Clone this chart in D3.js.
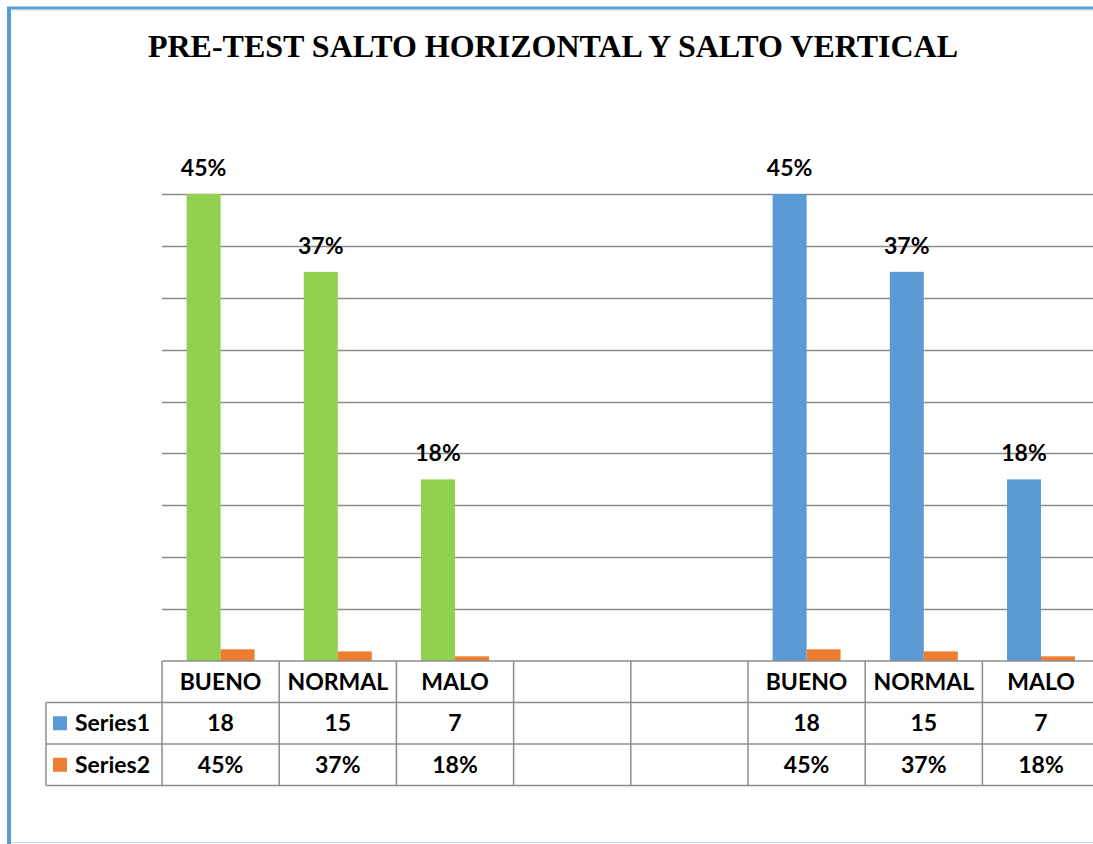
<!DOCTYPE html>
<html>
<head>
<meta charset="utf-8">
<script src="https://cdn.jsdelivr.net/npm/d3@7"></script>
<style>
  body { margin: 0; background: #fff; }
  svg { display: block; }
</style>
</head>
<body>
<div id="chart"></div>
<script>
// chart data
const categories = ['BUENO', 'NORMAL', 'MALO', '', '', 'BUENO', 'NORMAL', 'MALO'];
const series1 = [18, 15, 7, null, null, 18, 15, 7];
const series2 = [0.45, 0.37, 0.18, null, null, 0.45, 0.37, 0.18];
const series1Colors = ['#92D050', '#92D050', '#92D050', null, null, '#5B9BD5', '#5B9BD5', '#5B9BD5'];
const seriesNames = ['Series1', 'Series2'];
const seriesColors = ['#5B9BD5', '#ED7D31'];
const yTicks = [0, 2, 4, 6, 8, 10, 12, 14, 16, 18];

const width = 1093;
const height = 844;
const pct = d3.format('.0%');

const svg = d3
  .select('#chart')
  .append('svg')
  .attr('width', width)
  .attr('height', height);

// page frame
svg.append('line').attr('x1', 7).attr('x2', width).attr('y1', 8).attr('y2', 8)
  .attr('style', 'stroke: #5B9BD5; stroke-width: 3;');
svg.append('line').attr('x1', 7).attr('x2', width).attr('y1', 10).attr('y2', 10)
  .attr('style', 'stroke: #BDD7EE; stroke-width: 1;');
svg.append('line').attr('x1', 9).attr('x2', 9).attr('y1', 7).attr('y2', height)
  .attr('style', 'stroke: #5B9BD5; stroke-width: 4;');
svg.append('line').attr('x1', 11).attr('x2', width).attr('y1', 842.5).attr('y2', 842.5)
  .attr('style', 'stroke: #BDD7EE; stroke-width: 1;');

// title
svg.append('text')
  .attr('x', 553)
  .attr('y', 57)
  .attr('text-anchor', 'middle')
  .attr('style', 'font-family: "Liberation Serif", "Times New Roman", serif; font-weight: bold; font-size: 32px; fill: #000;')
  .text('PRE-TEST SALTO HORIZONTAL Y SALTO VERTICAL');

// scales
const plotLeft = 162;
const colWidth = 117.2;
const x = d3.scaleBand()
  .domain(d3.range(categories.length))
  .range([plotLeft, plotLeft + colWidth * categories.length])
  .paddingInner(0)
  .paddingOuter(0);

const y = d3.scaleLinear().domain([0, 18]).range([661, 194]);

const barW = 34;

// gridlines
svg.append('g')
  .selectAll('line')
  .data(yTicks.slice(1))
  .enter()
  .append('line')
  .attr('x1', plotLeft)
  .attr('x2', width)
  .attr('y1', (d) => Math.round(y(d)) + 0.5)
  .attr('y2', (d) => Math.round(y(d)) + 0.5)
  .attr('style', 'stroke: #8C8C8C; stroke-width: 1.5;');

// bars
const bars = svg.append('g')
  .selectAll('g')
  .data(categories.map((c, i) => ({ i, c, s1: series1[i], s2: series2[i], color: series1Colors[i] })))
  .enter()
  .filter((d) => d.s1 !== null)
  .append('g');

bars.append('rect')
  .attr('x', (d) => x(d.i) + x.bandwidth() / 2 - barW)
  .attr('y', (d) => y(d.s1))
  .attr('width', barW)
  .attr('height', (d) => y(0) - y(d.s1))
  .attr('fill', (d) => d.color);

bars.append('rect')
  .attr('x', (d) => x(d.i) + x.bandwidth() / 2)
  .attr('y', (d) => y(d.s2))
  .attr('width', barW)
  .attr('height', (d) => y(0) - y(d.s2))
  .attr('fill', seriesColors[1]);

bars.append('text')
  .attr('x', (d) => x(d.i) + x.bandwidth() / 2 - barW / 2)
  .attr('y', (d) => y(d.s1) - 18)
  .attr('text-anchor', 'middle')
  .attr('style', 'font-family: Lato, sans-serif; font-weight: bold; font-size: 23px; fill: #000;')
  .text((d) => pct(d.s2));

// data table
const rowY = [661, 702.5, 744, 785.5];
const tableLeft = 46;
const tableRight = plotLeft + colWidth * categories.length;
const lineStyle = 'stroke: #8E8E8E; stroke-width: 1.5;';
const table = svg.append('g');

table.append('line').attr('x1', plotLeft).attr('x2', tableRight).attr('y1', rowY[0]).attr('y2', rowY[0])
  .attr('style', lineStyle);
rowY.slice(1).forEach((ry) => {
  table.append('line').attr('x1', tableLeft).attr('x2', tableRight).attr('y1', ry).attr('y2', ry)
    .attr('style', lineStyle);
});
table.append('line').attr('x1', tableLeft).attr('x2', tableLeft).attr('y1', rowY[1]).attr('y2', rowY[3])
  .attr('style', lineStyle);
d3.range(categories.length + 1).forEach((k) => {
  const lx = plotLeft + colWidth * k;
  table.append('line').attr('x1', lx).attr('x2', lx).attr('y1', rowY[0]).attr('y2', rowY[3])
    .attr('style', lineStyle);
});

const cellStyle = 'font-family: Lato, sans-serif; font-weight: bold; font-size: 23px; fill: #000;';
const rows = [
  categories,
  series1.map((v) => (v === null ? '' : v)),
  series2.map((v) => (v === null ? '' : pct(v))),
];
rows.forEach((row, r) => {
  table.selectAll(null)
    .data(row)
    .enter()
    .append('text')
    .attr('x', (d, i) => x(i) + x.bandwidth() / 2)
    .attr('y', (rowY[r] + rowY[r + 1]) / 2 + 8)
    .attr('text-anchor', 'middle')
    .attr('style', cellStyle)
    .text((d) => d);
});

// legend keys in the table
seriesNames.forEach((name, k) => {
  const cy = (rowY[k + 1] + rowY[k + 2]) / 2;
  table.append('rect')
    .attr('x', 53).attr('y', cy - 7).attr('width', 14).attr('height', 14)
    .attr('fill', seriesColors[k]);
  table.append('text')
    .attr('x', 75).attr('y', cy + 8)
    .attr('style', cellStyle)
    .text(name);
});
</script>
</body>
</html>
